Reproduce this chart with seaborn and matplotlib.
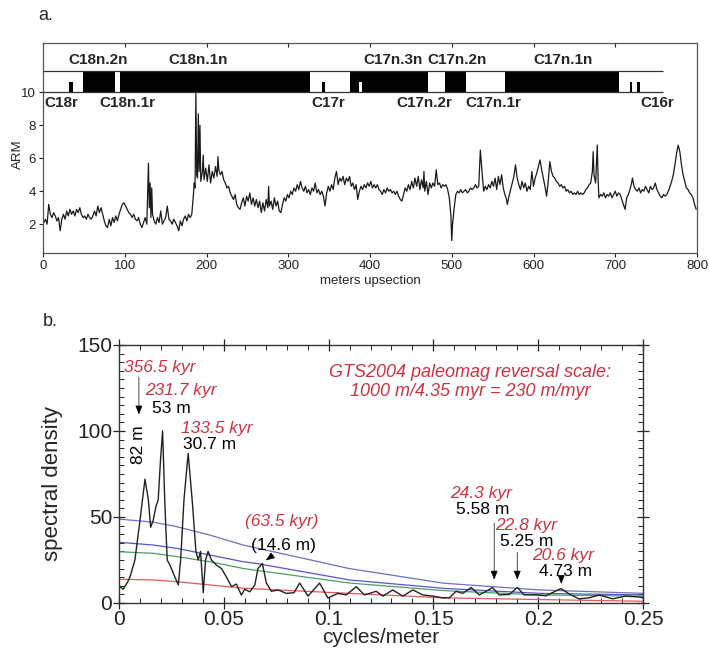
import numpy as np
import pandas as pd
import matplotlib
matplotlib.use("Agg")
import matplotlib.pyplot as plt
import seaborn as sns
from matplotlib.ticker import MultipleLocator

sns.set_theme(style="white")
plt.rcParams['font.family'] = ['Liberation Sans', 'DejaVu Sans']

# ---------------- Panel a data ----------------
arm_pairs = [
(0,2.0),(3,2.3),(5,2.0),(7,3.2),(9,2.6),(11,2.4),(13,2.7),(15,2.5),(17,2.2),(19,2.4),(21,1.6),(23,2.3),
(25,2.6),(27,2.3),(29,2.8),(31,2.5),(33,2.9),(35,2.6),(37,2.8),(39,2.5),(41,2.9),(43,2.7),(45,3.0),(47,2.6),
(49,2.4),(51,2.5),(53,2.3),(55,2.6),(57,2.4),(59,2.3),(61,2.5),(63,2.8),(65,2.5),(67,3.1),(69,2.7),(71,3.0),
(73,2.6),(75,2.2),(77,1.9),(79,1.8),(81,2.3),(83,1.9),(85,2.4),(87,2.1),(89,2.5),(91,2.2),(93,2.6),(95,2.9),
(97,3.2),(99,3.3),(101,3.1),(103,2.9),(105,2.7),(107,2.6),(109,2.4),(111,2.6),(113,2.3),(115,2.2),(117,2.4),
(119,2.0),(121,1.8),(123,2.1),(125,2.4),(127,2.0),(129,5.7),(130,3.0),(131,4.5),(132,2.4),(133,4.2),(134,2.6),
(136,2.2),(138,2.0),(140,2.4),(142,2.1),(144,2.8),(146,2.0),(148,2.2),(150,2.4),(152,3.1),(154,2.3),(156,2.2),
(158,2.0),(160,2.3),(162,2.1),(164,1.9),(166,1.6),(168,2.2),(170,1.9),(172,2.3),(174,2.5),(176,2.2),(178,2.6),
(180,2.4),(182,2.6),(184,3.8),(185,4.5),(186,4.2),(187,10.0),(188,5.0),(189,4.8),(190,8.7),(191,5.2),(192,8.0),
(193,4.6),(195,5.2),(196,6.2),(197,4.7),(199,5.4),(201,4.6),(203,5.6),(205,4.5),(207,5.2),(209,4.8),(211,5.5),
(213,4.9),(214,6.1),(215,5.3),(217,5.0),(219,5.2),(221,4.7),(223,4.5),(225,4.2),(227,4.3),(229,3.9),(231,3.7),
(233,3.5),(235,3.8),(237,3.2),(239,3.0),(241,2.9),(243,3.3),(245,3.6),(247,3.1),(249,3.7),(251,3.4),(253,3.9),
(255,3.2),(257,3.6),(259,3.1),(261,3.5),(263,3.0),(265,3.4),(267,2.7),(269,3.3),(271,2.8),(273,3.5),(275,3.0),
(276,4.3),(277,3.1),(279,3.4),(281,2.9),(283,3.6),(285,3.1),(287,3.4),(289,2.8),(291,2.7),(293,3.2),(295,3.6),
(297,3.4),(299,3.8),(301,3.6),(303,4.0),(305,3.8),(307,4.2),(309,4.0),(311,4.4),(313,4.1),(315,4.6),(317,4.2),
(319,4.0),(321,4.3),(323,3.9),(325,4.1),(327,3.8),(329,4.2),(331,4.0),(333,4.5),(335,3.9),(337,4.1),(339,3.8),
(341,4.0),(343,3.7),(345,3.1),(347,3.9),(349,4.3),(351,4.0),(353,4.4),(355,4.1),(357,4.8),(359,5.2),(361,4.4),
(363,4.8),(365,4.6),(367,4.9),(369,4.4),(371,4.8),(373,4.6),(375,4.9),(377,4.3),(379,4.5),(381,4.1),(383,4.4),
(385,3.5),(387,4.0),(389,4.3),(391,4.1),(393,4.4),(395,4.2),(397,4.5),(399,4.3),(401,4.6),(403,4.2),(405,4.4),
(407,4.2),(409,4.4),(411,4.1),(413,4.0),(415,3.8),(417,4.1),(419,3.9),(421,4.2),(423,4.0),(425,4.1),(427,3.9),
(429,4.0),(431,3.8),(433,4.0),(435,3.7),(437,3.5),(439,3.4),(441,3.8),(443,4.2),(445,4.0),(447,4.4),(449,4.1),
(451,4.6),(453,4.2),(455,4.8),(457,4.3),(459,4.9),(461,4.1),(463,4.7),(465,4.2),(466,5.2),(467,4.0),(469,4.6),
(471,3.8),(473,4.5),(475,4.2),(477,4.5),(479,4.3),(481,5.3),(483,4.4),(485,4.5),(487,4.2),(489,4.4),(491,4.3),
(493,4.4),(495,4.1),(497,3.6),(499,2.5),(500,1.0),(501,2.0),(503,3.0),(505,3.8),(507,4.0),(509,3.9),(511,4.1),
(513,3.9),(515,4.0),(517,4.1),(519,3.9),(521,4.0),(523,4.2),(525,4.1),(527,4.2),(529,4.4),(531,4.2),(533,4.3),
(535,6.5),(537,5.2),(539,4.0),(541,4.3),(543,4.1),(545,4.4),(547,4.2),(549,4.6),(551,4.3),(553,4.8),(555,4.1),
(557,4.9),(559,4.4),(561,5.0),(563,4.2),(565,3.8),(567,3.5),(568,3.2),(570,3.7),(572,4.1),(574,4.5),(576,4.9),
(578,5.6),(580,4.8),(582,4.4),(584,4.1),(586,4.6),(588,4.2),(590,4.5),(592,4.0),(594,4.3),(596,4.1),(598,5.2),
(600,4.3),(602,4.8),(604,5.1),(606,5.5),(608,5.9),(610,5.3),(612,4.8),(614,4.3),(616,3.7),(618,4.6),(620,5.8),
(622,5.2),(624,4.9),(626,4.8),(628,4.6),(630,4.5),(632,4.3),(634,4.4),(636,4.2),(638,4.3),(640,4.0),(642,4.1),
(644,3.9),(646,4.0),(648,3.8),(650,3.9),(652,3.8),(654,4.0),(656,3.8),(658,3.9),(660,3.8),(662,3.9),(664,4.1),
(666,4.2),(668,4.4),(670,4.5),(672,5.2),(673,6.4),(674,5.0),(676,4.5),(678,6.8),(679,4.8),(680,3.6),(682,3.8),
(684,3.7),(686,3.9),(688,3.6),(690,3.8),(692,3.7),(694,3.9),(696,3.6),(698,3.8),(700,4.0),(702,3.7),(704,3.9),
(706,3.8),(708,3.5),(710,3.2),(712,2.9),(714,3.6),(716,3.8),(718,4.1),(720,4.5),(721,4.8),(723,4.3),(725,4.1),
(727,4.0),(729,4.2),(731,3.9),(733,4.1),(735,4.0),(737,4.3),(739,4.1),(741,3.9),(743,4.3),(745,4.1),(747,4.2),
(749,4.5),(751,4.1),(753,3.9),(755,3.7),(757,3.6),(759,3.8),(761,3.7),(763,3.8),(765,4.0),(767,4.3),(769,4.6),
(771,5.0),(773,5.6),(775,6.3),(777,6.8),(779,6.4),(781,5.6),(783,5.0),(785,4.6),(787,4.2),(789,4.1),(791,3.9),
(793,3.8),(795,3.6),(797,3.2),(799,2.9)]
depth_m = [p[0] for p in arm_pairs]
arm = [p[1] for p in arm_pairs]

# normal polarity chrons (full height)
normal_start = [49, 94, 376, 492, 565]
normal_end = [88, 327, 471, 518, 705]
# short normal events (half height)
short_start = [32, 341, 718, 727]
short_end = [37, 345, 721, 730]
# reversed notch inside C17n.3n
notch_start = [386]
notch_end = [390]

upper_labels = ["C18n.2n", "C18n.1n", "C17n.3n", "C17n.2n", "C17n.1n"]
upper_label_x = [67, 190, 428, 506, 636]
lower_labels = ["C18r", "C18n.1r", "C17r", "C17n.2r", "C17n.1r", "C16r"]
lower_label_x = [23, 103, 349, 467, 551, 751]

# ---------------- Panel b data ----------------
freq = [0.000,0.002,0.004,0.0052,0.0076,0.010,0.0124,0.014,0.0151,0.0163,0.0176,0.0187,0.0198,0.0208,0.0219,
        0.023,0.0243,0.0267,0.0283,0.0294,0.031,0.033,0.0351,0.0367,0.0378,0.0389,0.0402,0.0413,0.0425,0.0441,
        0.0465,0.0489,0.0513,0.0537,0.056,0.0584,0.060,0.0624,0.0648,0.0663,0.0684,0.0703,0.0727,0.0759,0.0798,
        0.0835,0.0862,0.0902,0.0957,0.0997,0.1044,0.1084,0.1132,0.1171,0.1227,0.1259,0.1306,0.1354,0.1402,0.1449,
        0.1497,0.1544,0.1576,0.1608,0.164,0.168,0.1719,0.1751,0.1782,0.1814,0.1862,0.1901,0.1933,0.1989,0.2037,
        0.2108,0.2156,0.2195,0.2243,0.229,0.2354,0.2417,0.2481,0.25]
density = [10,8,12,15,25,48,72,60,44,48,56,60,83,100,57,
           25,22,15,10.5,25,60,87,57,30,25,30,6,25,30,25,
           22,20,15,9.5,11,4.6,8,6.5,10.5,20,23,11.6,6.8,7.6,5.6,
           6,11.6,4,11.6,2.9,5.6,4.7,9.5,4.7,6.8,4,7.6,4,7.6,4.7,
           4,3,3,6.8,5.6,9,4.7,6.8,9,4.7,5,9,4.7,4.7,4.2,
           8.4,4.7,2.4,3,4.7,2.4,4,3.5,3]

bg_freq = [0, 0.0163, 0.0275, 0.0433, 0.0592, 0.0655, 0.11, 0.155, 0.2005, 0.25]
conf99 = [48.8, 47, 44.4, 39.5, 33.7, 32, 20, 11.5, 7.6, 5.6]
conf95 = [35.3, 33.7, 31.8, 27.9, 24, 23, 13.4, 8.5, 5.6, 4.7]
conf90 = [29.8, 28.9, 27, 24, 20.1, 19, 11.6, 7.2, 4.7, 4.0]
red_bg = [13.8, 13.4, 12.4, 10.5, 8.6, 8.2, 5.6, 3.0, 2.0, 1.0]

# ---------------- Figure ----------------
W, H = 709, 650
fig = plt.figure(figsize=(W/100, H/100), dpi=100)
fig.patch.set_facecolor("white")

def frac(x0, y0, x1, y1):
    return [x0/W, 1-y1/H, (x1-x0)/W, (y1-y0)/H]

# Panel a
axa = fig.add_axes(frac(43, 43, 697, 253))
dfa = pd.DataFrame({"m": depth_m, "arm": arm})
sns.lineplot(data=dfa, x="m", y="arm", ax=axa, color="#1a1a1a", lw=0.9,
             estimator=None, sort=False)
bar_bottom, bar_h = 10.0, 1.27
axa.bar(x=normal_start, height=bar_h, width=np.array(normal_end)-np.array(normal_start),
        bottom=bar_bottom, align="edge", color="black", lw=0)
axa.bar(x=short_start, height=bar_h*0.5, width=np.array(short_end)-np.array(short_start),
        bottom=bar_bottom, align="edge", color="black", lw=0)
axa.bar(x=notch_start, height=bar_h*0.5, width=np.array(notch_end)-np.array(notch_start),
        bottom=bar_bottom, align="edge", color="white", lw=0)
axa.hlines([bar_bottom, bar_bottom+bar_h], 0, 758, color="#333333", lw=0.9)
for lab, x in zip(upper_labels, upper_label_x):
    axa.text(x, 11.95, lab, ha="center", va="center", fontsize=11, fontweight="bold")
for lab, x in zip(lower_labels, lower_label_x):
    axa.text(x, 9.33, lab, ha="center", va="center", fontsize=11, fontweight="bold")
axa.set_xlim(0, 800)
axa.set_ylim(0.25, 13.0)
axa.set_xticks(range(0, 801, 100))
axa.set_yticks([2, 4, 6, 8, 10])
axa.tick_params(axis="both", labelsize=9.5, length=3, width=0.8, direction="out",
                left=True, bottom=True, pad=2, colors="#222222")
sec = axa.secondary_xaxis("top")
sec.set_xticks(range(100, 800, 100))
sec.tick_params(direction="in", length=3, width=0.8, labeltop=False, colors="#222222")
sec.spines["top"].set_visible(False)
axa.set_xlabel("meters upsection", fontsize=9.5, labelpad=2)
axa.set_ylabel("ARM", fontsize=9.5)
axa.yaxis.set_label_coords(-0.029, 0.47)
for s in axa.spines.values():
    s.set_color("#555555"); s.set_linewidth(0.9)

fig.text(38/W, 1-15/H, "a.", fontsize=13, va="center", ha="left")

# Panel b
axb = fig.add_axes(frac(119, 345, 643, 603))
dfb = pd.DataFrame({"f": freq, "d": density})
dfbg = pd.DataFrame({"f": bg_freq, "c99": conf99, "c95": conf95, "c90": conf90, "red": red_bg})
sns.lineplot(data=dfbg, x="f", y="c99", ax=axb, color="#6f6fc4", lw=0.9, estimator=None)
sns.lineplot(data=dfbg, x="f", y="c95", ax=axb, color="#5656c6", lw=0.9, estimator=None)
sns.lineplot(data=dfbg, x="f", y="c90", ax=axb, color="#4f9d6a", lw=0.9, estimator=None)
sns.lineplot(data=dfbg, x="f", y="red", ax=axb, color="#e05a5a", lw=0.9, estimator=None)
sns.lineplot(data=dfb, x="f", y="d", ax=axb, color="#222222", lw=1.0, estimator=None, sort=False)
axb.set_xlim(0, 0.25)
axb.set_ylim(0, 150)
axb.set_xticks([0, 0.05, 0.1, 0.15, 0.2, 0.25])
axb.set_xticklabels(["0", "0.05", "0.1", "0.15", "0.2", "0.25"])
axb.set_yticks([0, 50, 100, 150])
axb.xaxis.set_minor_locator(MultipleLocator(0.01))
axb.yaxis.set_minor_locator(MultipleLocator(5))
axb.tick_params(axis="both", which="major", labelsize=15, direction="inout", length=8,
                width=0.9, top=True, right=True, left=True, bottom=True, pad=1, colors="#222222")
axb.tick_params(axis="both", which="minor", direction="in", length=3.5, width=0.7,
                top=True, right=True, left=True, bottom=True, colors="#222222")
axb.set_xlabel("cycles/meter", fontsize=15, labelpad=-1)
axb.set_ylabel("spectral density", fontsize=16)
axb.yaxis.set_label_coords(-0.107, 0.465)
for s in axb.spines.values():
    s.set_color("#333333"); s.set_linewidth(1.0)

red = "#cc3340"
ann = dict(fontsize=12.5)
axb.text(0.0024, 137.2, "356.5 kyr", color=red, style="italic", ha="left", va="center", **ann)
axb.text(0.0124, 123.8, "231.7 kyr", color=red, style="italic", ha="left", va="center", **ann)
axb.text(0.0157, 112.8, "53 m", color="black", ha="left", va="center", **ann)
axb.text(0.0095, 92, "82 m", color="black", ha="center", va="center", rotation=90, **ann)
axb.text(0.0295, 101.7, "133.5 kyr", color=red, style="italic", ha="left", va="center", **ann)
axb.text(0.0305, 91.9, "30.7 m", color="black", ha="left", va="center", **ann)
axb.text(0.1676, 134, "GTS2004 paleomag reversal scale:", color=red, style="italic",
         ha="center", va="center", fontsize=13)
axb.text(0.1676, 122.7, "1000 m/4.35 myr = 230 m/myr", color=red, style="italic",
         ha="center", va="center", fontsize=13)
axb.text(0.0776, 47.1, "(63.5 kyr)", color=red, style="italic", ha="center", va="center", **ann)
axb.text(0.0786, 33.7, "(14.6 m)", color="black", ha="center", va="center", **ann)
axb.text(0.1729, 63.4, "24.3 kyr", color=red, style="italic", ha="center", va="center", **ann)
axb.text(0.1733, 54.1, "5.58 m", color="black", ha="center", va="center", **ann)
axb.text(0.1943, 45.3, "22.8 kyr", color=red, style="italic", ha="center", va="center", **ann)
axb.text(0.1943, 36.0, "5.25 m", color="black", ha="center", va="center", **ann)
axb.text(0.2119, 27.9, "20.6 kyr", color=red, style="italic", ha="center", va="center", **ann)
axb.text(0.2129, 18.6, "4.73 m", color="black", ha="center", va="center", **ann)

arrow = dict(arrowstyle="-|>,head_length=0.45,head_width=0.18", color="black", lw=0.5)
for (x0, y0, x1, y1) in [(0.0095, 133, 0.0095, 108), (0.0748, 29, 0.0690, 23.8),
                         (0.179, 48, 0.179, 12), (0.190, 31, 0.190, 12), (0.211, 14, 0.211, 9.5)]:
    axb.annotate("", xy=(x1, y1), xytext=(x0, y0), arrowprops=arrow)

fig.text(43/W, 1-322/H, "b.", fontsize=13, va="center", ha="left")

fig.savefig("out.png", dpi=100, facecolor="white")
